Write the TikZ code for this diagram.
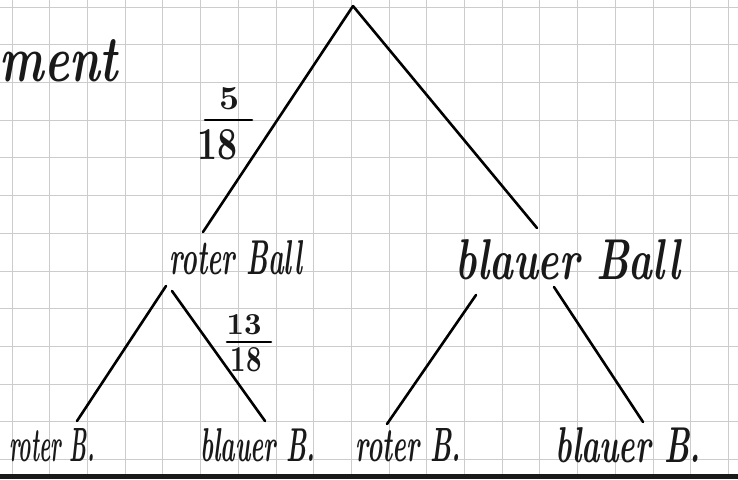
\documentclass[tikz,border=0pt]{standalone}
\usepackage{graphicx}
\newcommand{\hw}[3]{\resizebox{#1pt}{#2pt}{\bfseries\itshape #3}}
\newcommand{\hd}[3]{\resizebox{#1pt}{#2pt}{\bfseries #3}}
\tikzset{
  gridline/.style={draw=gray!40, line width=0.7pt},
  branch/.style={draw=black, line width=2.6pt, line cap=round},
  fracbar/.style={draw=black, line width=2.6pt, line cap=round},
  lbl/.style={inner sep=0pt, text=black!90},
  digit/.style={inner sep=0pt, text=black!90}
}
\begin{document}
\begin{tikzpicture}[x=1pt,y=-1pt]
\useasboundingbox (0,0) rectangle (738,479);
\fill[white] (0,0) rectangle (738,479);
% grid paper
\foreach \k in {0,...,19} {\draw[gridline] ({12+37.7*\k},0) -- ({12+37.7*\k},474);}
\foreach \k in {0,...,12} {\draw[gridline] (0,{7+37.7*\k}) -- (738,{7+37.7*\k});}
\fill[black!90] (0,474) rectangle (738,479);

% texts
\node[lbl] (ment) at (59,61) {\hw{118}{42}{ment}};
\node[lbl] (rb) at (236,258) {\hw{132}{34}{roter Ball}};
\node[lbl] (bb) at (568,260) {\hw{224}{40}{blauer Ball}};
\node[lbl] (l1) at (52,445) {\hw{85}{33}{roter B.}};
\node[lbl] (l2) at (258,445) {\hw{115}{33}{blauer B.}};
\node[lbl] (l3) at (408,445) {\hw{105}{33}{roter B.}};
\node[lbl] (l4) at (628,445) {\hw{145}{35}{blauer B.}};

% fraction 5/18
\node[digit] (f1num) at (229,99) {\hd{20}{22}{5}};
\node[digit] (f1den) at (217,145) {\hd{40}{30}{18}};
\draw[fracbar] (205,120) -- (252,120);
% fraction 13/18
\node[digit] (f2num) at (244,325) {\hd{35}{20}{13}};
\node[digit] (f2den) at (246,360) {\hd{31}{24}{18}};
\draw[fracbar] (227,342) -- (271,342);

% connector end points
\coordinate (apex) at (353,6);
\coordinate (rbtop) at (203,232);
\coordinate (bbtop) at (537,228);
\coordinate (rbl) at (166,286);
\coordinate (rbr) at (172,291);
\coordinate (bbl) at (476,295);
\coordinate (bbr) at (554,287);
\coordinate (l1top) at (77,421);
\coordinate (l2top) at (265,421);
\coordinate (l3top) at (387,424);
\coordinate (l4top) at (643,422);

\draw[branch] (apex) -- (rbtop);
\draw[branch] (apex) -- (bbtop);
\draw[branch] (rbl) -- (l1top);
\draw[branch] (rbr) -- (l2top);
\draw[branch] (bbl) -- (l3top);
\draw[branch] (bbr) -- (l4top);
\end{tikzpicture}
\end{document}
